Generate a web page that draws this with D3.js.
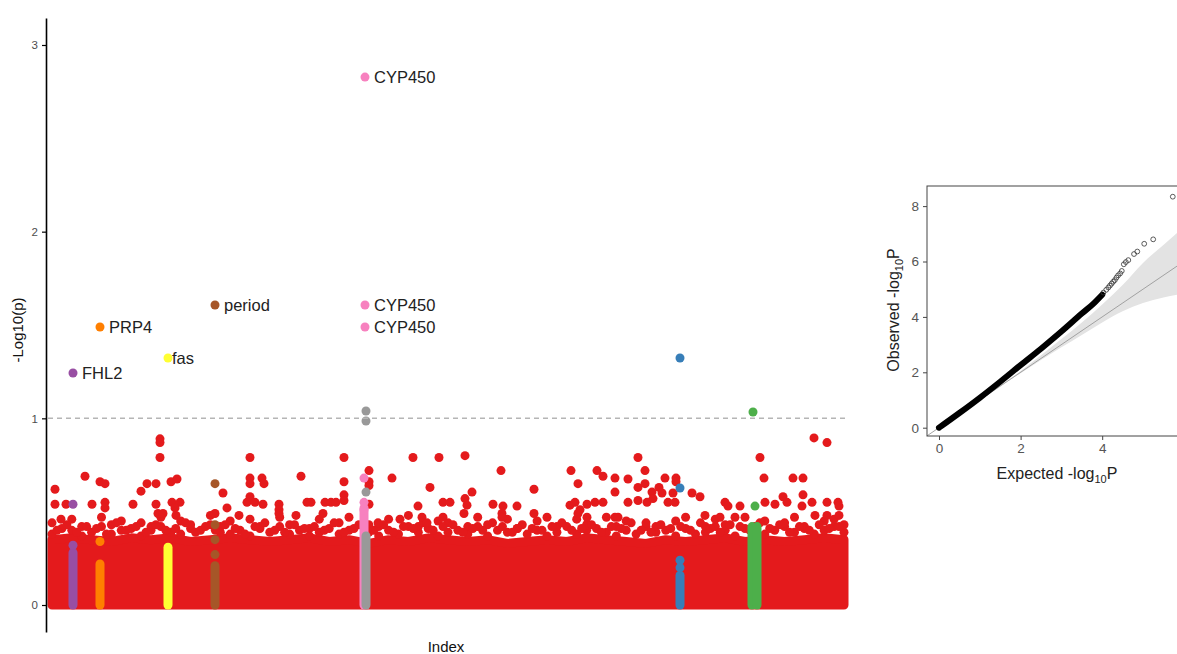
<!DOCTYPE html>
<html>
<head>
<meta charset="utf-8">
<script src="https://cdn.jsdelivr.net/npm/d3@7/dist/d3.min.js"></script>
<style>
  body { margin: 0; background: #fff; }
  svg { display: block; font-family: "Liberation Sans", Arial, sans-serif; }
</style>
</head>
<body>
<svg id="chart" width="1177" height="654"></svg>
<script>
// ---- manhattan data (index position along genome, -log10 p) ----
const yTicks = [0, 1, 2, 3];
const threshold = 1;

// solid bulk of the red points: top of the dense band, read along the index
const bandTop = [
  0.35, 0.36, 0.35, 0.34, 0.36, 0.35, 0.36, 0.34, 0.35, 0.36,
  0.35, 0.34, 0.35, 0.36, 0.34, 0.35, 0.33, 0.35, 0.34, 0.36,
  0.35, 0.34, 0.35, 0.33, 0.34, 0.35, 0.34, 0.36, 0.35, 0.34,
  0.33, 0.35, 0.34, 0.35, 0.36, 0.34, 0.35, 0.34, 0.35, 0.36, 0.35
];
// lumpy upper rows of the band
const bandRowA = [
  0.38, 0.41, 0.40, 0.37, 0.39, 0.42, 0.38, 0.40, 0.41, 0.37,
  0.40, 0.42, 0.39, 0.38, 0.41, 0.40, 0.43, 0.39, 0.38, 0.40,
  0.37, 0.41, 0.39, 0.42, 0.38, 0.40, 0.37, 0.39, 0.41, 0.38,
  0.40, 0.43, 0.39, 0.37, 0.40, 0.38, 0.42, 0.39, 0.41, 0.37,
  0.39, 0.40, 0.38, 0.42, 0.37, 0.40, 0.39, 0.41, 0.38, 0.40,
  0.37, 0.39, 0.42, 0.38, 0.40, 0.41, 0.39, 0.37, 0.40, 0.38,
  0.42, 0.39, 0.40, 0.37, 0.41, 0.38, 0.39, 0.42, 0.40, 0.37,
  0.41, 0.39, 0.38, 0.40, 0.42, 0.39, 0.41, 0.38, 0.40, 0.42, 0.39
];
const bandRowB = [
  0.44, null, 0.46, 0.42, null, 0.47, 0.43, 0.45, null, 0.44,
  0.42, 0.47, null, 0.45, 0.43, null, 0.48, 0.42, 0.45, null,
  0.46, 0.42, null, 0.47, 0.43, null, 0.41, 0.46, null, 0.44,
  0.47, null, 0.43, 0.42, 0.46, null, 0.48, 0.42, null, 0.45,
  0.44, null, 0.42, 0.47, 0.43, null, 0.46, 0.41, null, 0.45,
  0.47, 0.42, null, 0.46, 0.43, null, 0.47, 0.42, 0.45, null,
  0.44, 0.42, null, 0.45, 0.47, null, 0.42, 0.46, 0.43, null,
  0.47, 0.42, 0.45, null, 0.44, 0.47, 0.42, null, 0.45, 0.46, 0.43
];
// interleaved row between the two above
const bandRowC = [
  0.40, 0.43, 0.39, 0.42, 0.41, 0.38, 0.44, 0.40, 0.42, 0.39,
  0.43, 0.40, 0.41, 0.44, 0.39, 0.42, 0.40, 0.43, 0.41, 0.38,
  0.42, 0.44, 0.40, 0.39, 0.43, 0.41, 0.42, 0.40, 0.44, 0.39,
  0.41, 0.42, 0.40, 0.43, 0.39, 0.42, 0.41, 0.44, 0.40, 0.42,
  0.43, 0.39, 0.41, 0.40, 0.44, 0.42, 0.39, 0.43, 0.41, 0.40,
  0.42, 0.44, 0.40, 0.41, 0.43, 0.39, 0.42, 0.41, 0.44, 0.40,
  0.39, 0.43, 0.41, 0.42, 0.40, 0.44, 0.41, 0.39, 0.43, 0.42,
  0.40, 0.44, 0.41, 0.43, 0.39, 0.42, 0.40, 0.43, 0.41, 0.42
];

// scattered red points above the band [index, -log10 p]
const redOutliers = [
  [7, 0.62], [37, 0.69], [52, 0.66], [57, 0.65], [7, 0.54], [18, 0.54], [44, 0.54], [57, 0.55],
  [57, 0.52], [13, 0.46], [85, 0.54], [93, 0.61], [99, 0.65], [108, 0.65], [108, 0.54], [112, 0.89],
  [112, 0.87], [112, 0.79], [123, 0.66], [129, 0.675], [124, 0.55], [132, 0.55], [127, 0.52], [110, 0.49],
  [115, 0.49], [128, 0.48], [175, 0.60], [179, 0.52], [167, 0.49], [191, 0.48], [199, 0.55],
  [202, 0.79], [202, 0.68], [202, 0.65], [214, 0.68], [216, 0.65], [202, 0.58], [207, 0.55], [215, 0.54],
  [231, 0.54], [231, 0.51], [231, 0.49], [253, 0.69], [259, 0.55], [263, 0.55], [248, 0.48], [275, 0.49],
  [277, 0.55], [283, 0.55], [288, 0.55], [296, 0.79], [296, 0.66], [296, 0.59], [296, 0.56], [321, 0.72],
  [321, 0.66], [321, 0.64], [321, 0.54], [330, 0.44], [344, 0.68], [365, 0.79], [382, 0.63], [370, 0.53],
  [391, 0.79], [395, 0.55], [402, 0.55], [352, 0.46], [374, 0.47], [379, 0.44], [395, 0.47],
  [417, 0.80], [453, 0.72], [523, 0.72], [549, 0.72], [555, 0.69], [567, 0.68], [580, 0.675], [590, 0.79],
  [597, 0.72], [530, 0.65], [424, 0.605], [486, 0.62], [567, 0.605], [590, 0.63], [597, 0.65], [417, 0.57],
  [419, 0.535], [445, 0.54], [455, 0.53], [469, 0.53], [522, 0.535], [527, 0.55], [532, 0.51], [539, 0.54],
  [547, 0.55], [555, 0.55], [580, 0.55], [590, 0.56], [599, 0.55], [416, 0.49], [454, 0.49], [454, 0.47],
  [486, 0.49], [530, 0.49], [539, 0.47], [567, 0.47], [570, 0.47],
  [617, 0.68], [628, 0.68], [628, 0.66], [611, 0.63], [614, 0.60], [625, 0.60], [604, 0.605], [605, 0.57],
  [620, 0.55], [627, 0.55], [644, 0.60], [652, 0.58], [677, 0.55], [680, 0.53], [692, 0.53], [712, 0.79],
  [716, 0.68], [717, 0.55], [727, 0.54], [735, 0.58], [739, 0.55], [745, 0.68], [755, 0.68], [755, 0.59],
  [754, 0.53], [764, 0.55], [766, 0.895], [779, 0.87], [779, 0.55], [790, 0.55], [791, 0.53], [657, 0.48],
  [672, 0.47], [687, 0.47], [767, 0.48], [779, 0.48], [791, 0.48]
];

// highlighted genes: dense columns (from 0 up to top)
const columnGroup = ['purple', 'orange', 'yellow', 'brown', 'pink', 'gray', 'blue', 'green', 'green'];
const columnIdx   = [25, 52, 120, 167, 316, 318, 632, 704, 709];
const columnTop   = [0.28, 0.22, 0.31, 0.21, 0.52, 0.37, 0.16, 0.42, 0.42];

// highlighted single points [group, index, -log10 p, label]
const hitPoints = [
  ['purple', 25, 0.54, ''], ['purple', 25, 0.32, ''], ['purple', 25, 1.243, 'FHL2'],
  ['orange', 52, 0.34, ''], ['orange', 52, 1.489, 'PRP4'],
  ['yellow', 120, 1.323, 'fas'],
  ['brown', 167, 0.65, ''], ['brown', 167, 0.43, ''], ['brown', 167, 0.35, ''], ['brown', 167, 0.27, ''],
  ['brown', 167, 1.607, 'period'],
  ['pink', 316, 0.68, ''], ['pink', 316, 0.55, ''], ['pink', 316, 0.51, ''],
  ['gray', 318, 1.039, ''], ['gray', 318, 0.986, ''], ['gray', 318, 0.605, ''],
  ['pink', 317, 2.828, 'CYP450'], ['pink', 317, 1.607, 'CYP450'], ['pink', 317, 1.489, 'CYP450'],
  ['blue', 632, 1.323, ''], ['blue', 632, 0.627, ''], ['blue', 632, 0.24, ''], ['blue', 632, 0.20, ''],
  ['green', 705, 1.034, ''], ['green', 707, 0.53, '']
];

// ---- QQ data (expected vs observed -log10 P) ----
const qqTicksX = [0, 2, 4];
const qqTicksY = [0, 2, 4, 6, 8];
const qqLineExp = [0, 0.5, 1, 1.5, 2, 2.5, 3, 3.5, 3.8, 4.0];
const qqLineObs = [0, 0.53, 1.08, 1.66, 2.26, 2.85, 3.47, 4.12, 4.5, 4.8];
const qqTopExp = [4.03, 4.1, 4.15, 4.19, 4.23, 4.27, 4.31, 4.35, 4.39, 4.44, 4.48, 4.53, 4.58, 4.64, 4.78, 4.86, 5.03, 5.25, 5.73];
const qqTopObs = [4.88, 4.98, 5.06, 5.13, 5.2, 5.27, 5.33, 5.42, 5.5, 5.57, 5.66, 5.9, 5.98, 6.05, 6.27, 6.36, 6.64, 6.8, 8.34];
const ciExp = [0, 2, 3, 3.5, 4, 4.5, 5, 5.5, 6.2];
const ciHi  = [0, 2.05, 3.2, 3.8, 4.45, 5.15, 5.95, 6.6, 7.5];
const ciLo  = [0, 1.97, 2.9, 3.35, 3.8, 4.2, 4.5, 4.7, 4.9];

const groupColor = d3.scaleOrdinal()
  .domain(['red', 'blue', 'green', 'purple', 'orange', 'yellow', 'brown', 'pink', 'gray'])
  .range(['#E41A1C', '#377EB8', '#4DAF4A', '#984EA3', '#FF7F00', '#FFFF33', '#A65628', '#F781BF', '#999999']);

const svg = d3.select('#chart');
const R = 4.5;

function drawManhattan() {
  const x = d3.scaleLinear().domain([0, 800]).range([48, 848]);
  const y = d3.scaleLinear().domain([-0.1446, 3.1446]).range([632, 18]);
  const g = svg.append('g');
  const red = groupColor('red');

  // band bulk
  const stepTop = 792 / (bandTop.length - 1);
  g.append('path')
    .datum(bandTop)
    .attr('d', d3.area()
      .x((d, i) => x(4 + i * stepTop))
      .y0(y(0))
      .y1(d => y(d)))
    .attr('fill', red)
    .attr('stroke', red)
    .attr('stroke-width', R * 2)
    .attr('stroke-linejoin', 'round');

  const rowStep = 792 / (bandRowA.length - 1);
  [[bandRowA, 0], [bandRowB, 0], [bandRowC, 0.5]].forEach(([row, off]) => {
    g.append('g').selectAll('circle')
      .data(row.map((v, i) => [4 + (i + off) * rowStep, v]).filter(d => d[1] !== null))
      .enter().append('circle')
      .attr('cx', d => x(d[0]))
      .attr('cy', d => y(d[1]))
      .attr('r', R)
      .attr('fill', red);
  });

  g.append('g').selectAll('circle')
    .data(redOutliers)
    .enter().append('circle')
    .attr('cx', d => x(d[0]))
    .attr('cy', d => y(d[1]))
    .attr('r', R)
    .attr('fill', red);

  // highlighted columns
  g.append('g').selectAll('line')
    .data(columnIdx.map((d, i) => ({ idx: d, top: columnTop[i], group: columnGroup[i] })))
    .enter().append('line')
    .attr('x1', d => x(d.idx)).attr('x2', d => x(d.idx))
    .attr('y1', y(0)).attr('y2', d => y(d.top))
    .attr('stroke', d => groupColor(d.group))
    .attr('stroke-width', R * 2)
    .attr('stroke-linecap', 'round');

  g.append('g').selectAll('circle')
    .data(hitPoints)
    .enter().append('circle')
    .attr('cx', d => x(d[1]))
    .attr('cy', d => y(d[2]))
    .attr('r', R)
    .attr('fill', d => groupColor(d[0]));

  // threshold
  g.append('line')
    .attr('x1', x(0)).attr('x2', x(800))
    .attr('y1', y(threshold)).attr('y2', y(threshold))
    .attr('stroke', '#b5b5b5')
    .attr('stroke-width', 1.5)
    .attr('stroke-dasharray', '5,4');

  // labels
  const nudge = { fas: 4 };
  g.append('g').selectAll('text')
    .data(hitPoints.filter(d => d[3]))
    .enter().append('text')
    .attr('x', d => x(d[1]) + (nudge[d[3]] || 9))
    .attr('y', d => y(d[2]))
    .attr('dy', '0.35em')
    .attr('font-size', 16.5)
    .attr('fill', '#222')
    .text(d => d[3]);

  // axis
  const ax = g.append('g')
    .attr('transform', `translate(${46},0)`)
    .call(d3.axisLeft(y).tickValues(yTicks).tickFormat(d3.format('d')).tickSize(4).tickSizeOuter(0).tickPadding(4));
  ax.select('.domain').attr('stroke', '#000').attr('stroke-width', 1.6);
  ax.selectAll('.tick line').attr('stroke', '#000').attr('stroke-width', 1.2);
  ax.selectAll('.tick text').attr('fill', '#4d4d4d').attr('font-size', 11.5)
    .attr('font-family', '"Liberation Sans", Arial, sans-serif');

  g.append('text')
    .attr('transform', `translate(${23},${330}) rotate(-90)`)
    .attr('text-anchor', 'middle')
    .attr('font-size', 15)
    .attr('fill', '#111')
    .text('-Log10(p)');

  g.append('text')
    .attr('x', 446).attr('y', 652)
    .attr('text-anchor', 'middle')
    .attr('font-size', 15)
    .attr('fill', '#111')
    .text('Index');
}

function drawQQ() {
  const qx = d3.scaleLinear().domain([-0.294, 6.152]).range([927, 1190]);
  const qy = d3.scaleLinear().domain([-0.2996, 8.726]).range([436, 186]);
  const g = svg.append('g');

  g.append('clipPath').attr('id', 'qqclip')
    .append('rect').attr('x', 927).attr('y', 186).attr('width', 263).attr('height', 250);
  const p = g.append('g').attr('clip-path', 'url(#qqclip)');

  p.append('path')
    .datum(ciExp.map((e, i) => [e, ciLo[i], ciHi[i]]))
    .attr('d', d3.area()
      .x(d => qx(d[0]))
      .y0(d => qy(d[1]))
      .y1(d => qy(d[2]))
      .curve(d3.curveMonotoneX))
    .attr('fill', '#e3e3e3');

  p.append('line')
    .attr('x1', qx(-0.5)).attr('y1', qy(-0.5))
    .attr('x2', qx(6.5)).attr('y2', qy(6.5))
    .attr('stroke', '#9a9a9a')
    .attr('stroke-width', 0.9);

  p.append('path')
    .datum(qqLineExp.map((e, i) => [e, qqLineObs[i]]))
    .attr('d', d3.line().x(d => qx(d[0])).y(d => qy(d[1])).curve(d3.curveMonotoneX))
    .attr('fill', 'none')
    .attr('stroke', '#000')
    .attr('stroke-width', 6)
    .attr('stroke-linecap', 'round');

  p.append('g').selectAll('circle')
    .data(qqTopExp.map((e, i) => [e, qqTopObs[i]]))
    .enter().append('circle')
    .attr('cx', d => qx(d[0]))
    .attr('cy', d => qy(d[1]))
    .attr('r', 2.4)
    .attr('fill', 'none')
    .attr('stroke', '#333')
    .attr('stroke-width', 0.8);

  g.append('rect')
    .attr('x', 927).attr('y', 186).attr('width', 263).attr('height', 250)
    .attr('fill', 'none')
    .attr('stroke', '#444')
    .attr('stroke-width', 1);

  const bx = g.append('g')
    .attr('transform', `translate(0,${436})`)
    .call(d3.axisBottom(qx).tickValues(qqTicksX).tickFormat(d3.format('d')).tickSize(4).tickPadding(3));
  const by = g.append('g')
    .attr('transform', `translate(${927},0)`)
    .call(d3.axisLeft(qy).tickValues(qqTicksY).tickFormat(d3.format('d')).tickSize(4).tickPadding(4));
  [bx, by].forEach(a => {
    a.select('.domain').remove();
    a.selectAll('.tick line').attr('stroke', '#444');
    a.selectAll('.tick text').attr('fill', '#555').attr('font-size', 13.5)
      .attr('font-family', '"Liberation Sans", Arial, sans-serif');
  });

  const xt = g.append('text')
    .attr('x', 1057).attr('y', 479)
    .attr('text-anchor', 'middle')
    .attr('font-size', 16)
    .attr('fill', '#222');
  xt.append('tspan').text('Expected -log');
  xt.append('tspan').attr('dy', 4).attr('font-size', 11).text('10');
  xt.append('tspan').attr('dy', -4).text('P');

  const yt = g.append('text')
    .attr('transform', `translate(${899},${310}) rotate(-90)`)
    .attr('text-anchor', 'middle')
    .attr('font-size', 16)
    .attr('fill', '#222');
  yt.append('tspan').text('Observed -log');
  yt.append('tspan').attr('dy', 4).attr('font-size', 11).text('10');
  yt.append('tspan').attr('dy', -4).text('P');
}

drawManhattan();
drawQQ();
</script>
</body>
</html>
